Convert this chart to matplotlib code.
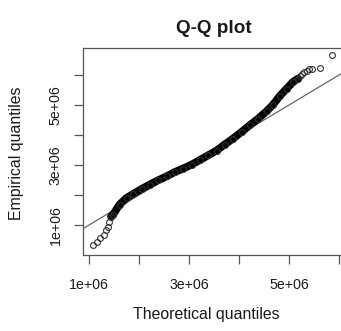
#!/usr/bin/env python3
# qq_plot.py - Q-Q plot of empirical vs fitted normal quantiles
import numpy as np
import matplotlib
matplotlib.use("Agg")
import matplotlib.pyplot as plt

# quantiles, in millions
theo_m = [1.07, 1.15, 1.22, 1.29, 1.33, 1.37, 1.40, 1.44,
          1.48, 1.61, 1.75, 1.88, 2.05, 2.21, 2.38, 2.55, 2.71, 2.88,
          3.05, 3.21, 3.38, 3.55, 3.71, 3.88, 4.05, 4.21, 4.38, 4.55,
          4.68, 4.81, 4.95, 5.08, 5.18,
          5.22, 5.26, 5.30, 5.35, 5.40, 5.46, 5.61, 5.86]
emp_m = [0.33, 0.44, 0.56, 0.67, 0.83, 0.94, 1.11, 1.28,
         1.34, 1.68, 1.90, 2.03, 2.20, 2.34, 2.49, 2.62, 2.76, 2.88,
         3.01, 3.16, 3.32, 3.48, 3.68, 3.88, 4.10, 4.32, 4.54, 4.79,
         5.01, 5.29, 5.54, 5.77, 5.88,
         5.97, 6.05, 6.10, 6.15, 6.19, 6.21, 6.22, 6.67]
# dense part of the sample (drawn as a solid band)
band_lo, band_hi = 7, 33

xticks = [1e6, 2e6, 3e6, 4e6, 5e6, 6e6]
xtick_labels = ["1e+06", "", "3e+06", "", "5e+06", ""]
yticks = [1e6, 2e6, 3e6, 4e6, 5e6, 6e6]
ytick_labels = ["1e+06", "", "3e+06", "", "5e+06", ""]


def main():
    plt.rcParams["font.family"] = ["Liberation Sans", "DejaVu Sans"]
    x = np.array(theo_m) * 1e6
    y = np.array(emp_m) * 1e6

    W, H = 341, 331
    fig = plt.figure(figsize=(W / 100, H / 100), dpi=100)
    ax = fig.add_axes([83 / W, 76 / H, 261 / W, 207 / H])
    ax.set_xlim(0.88e6, 6.1e6)
    ax.set_ylim(0.0, 6.9e6)

    # reference line y = x
    ax.plot([0, 8e6], [0, 8e6], color="#666666", lw=0.9, zorder=1)

    # dense band + individual points
    ax.plot(x[band_lo:band_hi], y[band_lo:band_hi], color="black", lw=5.6,
            solid_capstyle="round", solid_joinstyle="round", zorder=2)
    ax.plot(x, y, ls="none", marker="o", ms=4.2, mfc="none", mec="#333333",
            mew=0.8, zorder=3)

    box = "#555555"
    for s in ax.spines.values():
        s.set_color(box)
        s.set_linewidth(0.9)

    ax.set_xticks(xticks)
    ax.set_xticklabels(xtick_labels)
    ax.set_yticks(yticks)
    ax.set_yticklabels(ytick_labels, rotation=90, va="center")
    ax.tick_params(direction="out", length=6.5, width=0.9, color=box,
                   labelsize=10.2, labelcolor="#1a1a1a")
    ax.tick_params(axis="x", pad=10)
    ax.tick_params(axis="y", pad=8)

    ax.set_title("Q-Q plot", fontsize=13.6, fontweight="bold", pad=11,
                 color="#1a1a1a")
    ax.set_xlabel("Theoretical quantiles", fontsize=11.4, color="#1a1a1a")
    ax.set_ylabel("Empirical quantiles", fontsize=11.4, color="#1a1a1a")
    ax.xaxis.set_label_coords((206 - 83) / 261, -(307 - 255) / 207)
    ax.yaxis.set_label_coords((24 - 83) / 261, (255 - 153.5) / 207)

    fig.savefig("out.png", dpi=100)


if __name__ == "__main__":
    main()
